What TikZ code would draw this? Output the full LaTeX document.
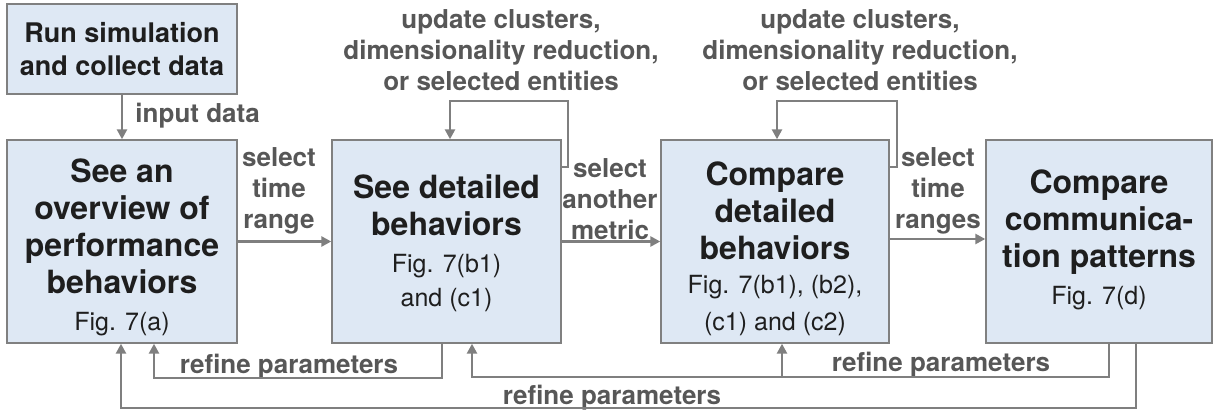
\documentclass[tikz,border=0pt]{standalone}
\usepackage{fontspec}
\setmainfont{TeX Gyre Heros}
\usetikzlibrary{arrows.meta}
\definecolor{boxfill}{HTML}{DEE8F4}
\definecolor{boxline}{HTML}{808080}
\definecolor{conncol}{HTML}{7F7F7F}
\definecolor{lblcol}{HTML}{575757}
\definecolor{ttlcol}{HTML}{1E1E1E}
\tikzset{
  box/.style={draw=boxline, fill=boxfill, line width=0.7pt, inner sep=0pt, align=center, text=ttlcol},
  ttl/.style={inner sep=0pt, align=center, text=ttlcol, font=\bfseries\fontsize{16}{18.5}\selectfont},
  conn/.style={draw=conncol, line width=1.4pt},
  arr/.style={conn, -{Triangle[length=5pt,width=5pt]}},
  lbl/.style={text=lblcol, font=\bfseries\fontsize{13}{15.5}\selectfont, align=center, inner sep=0pt},
}
\newcommand{\figfont}{\mdseries\fontsize{12.5}{17.5}\selectfont}
\begin{document}
\begin{tikzpicture}[x=0.5pt,y=-0.5pt]
\useasboundingbox (0,0) rectangle (1213,411);
% boxes
\node[box, minimum width=115pt, minimum height=45pt, font=\bfseries\fontsize{13.5}{16.5}\selectfont] (R) at (122,49) {Run simulation\\and collect data};
\node[box, minimum width=115pt, minimum height=101.5pt] (A) at (122,241.5) {};
\node[box, minimum width=114.5pt, minimum height=101.5pt] (B) at (446.5,241.5) {};
\node[box, minimum width=114pt, minimum height=101.5pt] (C) at (775,241.5) {};
\node[box, minimum width=113pt, minimum height=101.5pt] (D) at (1099,241.5) {};
% box texts
\node[ttl] (At) at (122,247)
  {See an\\overview of\\performance\\behaviors\\{\figfont Fig. 7(a)}};
\node[ttl] (Bt) at (446.5,243.5)
  {See detailed\\behaviors\\{\figfont Fig. 7(b1)}\\[-1.5pt]{\figfont and (c1)}};
\node[ttl] (Ct) at (775,249)
  {Compare\\detailed\\behaviors\\[-1.5pt]{\figfont Fig. 7(b1), (b2),}\\{\figfont (c1) and (c2)}};
\node[ttl] (Dt) at (1099,240)
  {Compare\\communica-\\tion patterns\\{\figfont Fig. 7(d)}};
% labels
\node[lbl, anchor=base west] (lin) at (135,123) {input data};
\node[lbl] (lAB) at (279,191) {select\\time\\range};
\node[lbl] (lBC) at (610,199) {select\\another\\metric};
\node[lbl] (lCD) at (938,191) {select\\time\\ranges};
\node[lbl] (lB) at (501,50) {update clusters,\\dimensionality reduction,\\or selected entities};
\node[lbl] (lC) at (860,50) {update clusters,\\dimensionality reduction,\\or selected entities};
\node[lbl, anchor=base] (r1) at (289,373) {refine parameters};
\node[lbl, anchor=base] (r2) at (941,371) {refine parameters};
\node[lbl, anchor=base] (r3) at (612,404) {refine parameters};
% forward connectors
\draw[arr] (R) -- (A);
\draw[arr] (A) -- (B);
\draw[arr] (B) -- (C);
\coordinate (yCD) at (0,239);
\draw[arr] (C.east |- yCD) -- (D.west |- yCD);
% self loops
\coordinate (lpB1) at (568,167);
\coordinate (lpB2) at (450,101);
\draw[arr] (B.east |- lpB1) -- (lpB1) |- (lpB2) -- (B.north -| lpB2);
\coordinate (lpC1) at (897,167);
\coordinate (lpC2) at (777,101);
\draw[arr] (C.east |- lpC1) -- (lpC1) |- (lpC2) -- (C.north -| lpC2);
% refine loops
\coordinate (rBA1) at (442,378);
\coordinate (rBA2) at (154,378);
\draw[arr] (B.south -| rBA1) -- (rBA1) -- (rBA2) -- (A.south -| rBA2);
\coordinate (rD1) at (1109,377);
\coordinate (rD2) at (472,377);
\coordinate (rD3) at (782,377);
\draw[arr] (D.south -| rD1) -- (rD1) -- (rD2) -- (B.south -| rD2);
\draw[arr] (rD3) -- (C.south -| rD3);
\coordinate (rDA1) at (1136,408);
\coordinate (rDA2) at (121,408);
\draw[arr] (D.south -| rDA1) -- (rDA1) -- (rDA2) -- (A.south -| rDA2);
\end{tikzpicture}
\end{document}
